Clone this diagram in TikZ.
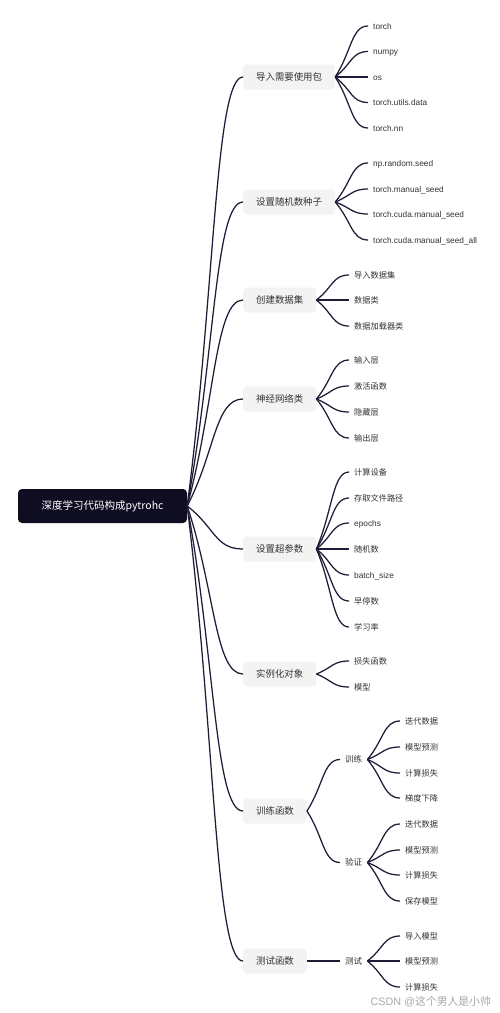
\documentclass[tikz,border=0pt]{standalone}
\usepackage{fontspec}
\setmainfont{Liberation Sans}
\newfontfamily\cjk{Noto Sans CJK SC}
\usetikzlibrary{calc}
\definecolor{linec}{HTML}{1E1C36}
\definecolor{rootc}{HTML}{0F0D22}
\definecolor{boxc}{HTML}{F3F3F3}
\definecolor{txtc}{HTML}{333333}
\definecolor{wmc}{HTML}{A8A8A8}
\newcommand\mmlink[2]{\draw[link] let \p1=(#1), \p2=(#2) in (\p1) .. controls ({(\x1+\x2)/2},{(\y1+\y2)/2}) and ({(\x1+\x2)/2},\y2) .. (\p2);}
\begin{document}
\begin{tikzpicture}[x=1pt,y=-1pt,
 link/.style={draw=linec, line width=1.25pt},
 rootbox/.style={fill=rootc, rounded corners=4pt, minimum width=169pt, minimum height=34pt, text=white, font=\cjk\fontsize{10.5}{12}\selectfont, inner sep=0pt, text height=0.75em, text depth=0.1em},
 topic/.style={fill=boxc, rounded corners=4pt, minimum height=25pt, inner xsep=13pt, inner ysep=0pt, text=txtc, font=\cjk\fontsize{9.4}{11}\selectfont, anchor=west, text height=0.75em, text depth=0.1em},
 leaf/.style={inner xsep=5pt, inner ysep=1pt, text=txtc, font=\fontsize{8.3}{10}\selectfont, anchor=west, text height=0.75em, text depth=0.1em},
 cleaf/.style={leaf, font=\cjk\fontsize{8.2}{10}\selectfont},
 subnode/.style={leaf, font=\cjk\fontsize{8.5}{10}\selectfont},
 wmark/.style={anchor=east, inner sep=0pt, text=wmc, font=\fontsize{10.8}{12}\selectfont}]
\fill[white] (0,0) rectangle (500,1013);
\useasboundingbox (0,0) rectangle (500,1013);
% root
\node[rootbox] (root) at (102.5,506) {深度学习代码构成pytrohc};
% topics
\node[topic] (t1) at (243,77) {导入需要使用包};
\node[topic] (t2) at (243,202) {设置随机数种子};
\node[topic] (t3) at (243,300) {创建数据集};
\node[topic] (t4) at (243,399) {神经网络类};
\node[topic] (t5) at (243,549) {设置超参数};
\node[topic] (t6) at (243,674) {实例化对象};
\node[topic] (t7) at (243,811) {训练函数};
\node[topic] (t8) at (243,961) {测试函数};
% group 1
\node[leaf] (a1) at (368,26) {torch};
\node[leaf] (a2) at (368,51.5) {numpy};
\node[leaf] (a3) at (368,77) {os};
\node[leaf] (a4) at (368,102.5) {torch.utils.data};
\node[leaf] (a5) at (368,128) {torch.nn};
% group 2
\node[leaf] (b1) at (368,163) {np.random.seed};
\node[leaf] (b2) at (368,189) {torch.manual\_seed};
\node[leaf] (b3) at (368,214) {torch.cuda.manual\_seed};
\node[leaf] (b4) at (368,240) {torch.cuda.manual\_seed\_all};
% group 3
\node[cleaf] (c1) at (349,275) {导入数据集};
\node[cleaf] (c2) at (349,300) {数据类};
\node[cleaf] (c3) at (349,326) {数据加载器类};
% group 4
\node[cleaf] (d1) at (349,360) {输入层};
\node[cleaf] (d2) at (349,386) {激活函数};
\node[cleaf] (d3) at (349,412) {隐藏层};
\node[cleaf] (d4) at (349,438) {输出层};
% group 5
\node[cleaf] (e1) at (349,472) {计算设备};
\node[cleaf] (e2) at (349,498) {存取文件路径};
\node[leaf]  (e3) at (349,523) {epochs};
\node[cleaf] (e4) at (349,549) {随机数};
\node[leaf]  (e5) at (349,575) {batch\_size};
\node[cleaf] (e6) at (349,601) {早停数};
\node[cleaf] (e7) at (349,627) {学习率};
% group 6
\node[cleaf] (f1) at (349,661) {损失函数};
\node[cleaf] (f2) at (349,687) {模型};
% group 7
\node[subnode] (s1) at (340,759.5) {训练};
\node[subnode] (s2) at (340,862.5) {验证};
\node[cleaf] (g1) at (400,721) {迭代数据};
\node[cleaf] (g2) at (400,747) {模型预测};
\node[cleaf] (g3) at (400,773) {计算损失};
\node[cleaf] (g4) at (400,798) {梯度下降};
\node[cleaf] (h1) at (400,824) {迭代数据};
\node[cleaf] (h2) at (400,850) {模型预测};
\node[cleaf] (h3) at (400,875) {计算损失};
\node[cleaf] (h4) at (400,901) {保存模型};
% group 8
\node[subnode] (s3) at (340,961) {测试};
\node[cleaf] (k1) at (400,936) {导入模型};
\node[cleaf] (k2) at (400,961) {模型预测};
\node[cleaf] (k3) at (400,987) {计算损失};
% watermark
\node[wmark] (wm) at (491,1002) {CSDN @{\cjk 这个男人是小帅}};
% links
\foreach \t in {t1,t2,t3,t4,t5,t6,t7,t8} {\mmlink{root.east}{\t.west}}
\foreach \l in {a1,a2,a3,a4,a5} {\mmlink{t1.east}{\l.west}}
\foreach \l in {b1,b2,b3,b4} {\mmlink{t2.east}{\l.west}}
\foreach \l in {c1,c2,c3} {\mmlink{t3.east}{\l.west}}
\foreach \l in {d1,d2,d3,d4} {\mmlink{t4.east}{\l.west}}
\foreach \l in {e1,e2,e3,e4,e5,e6,e7} {\mmlink{t5.east}{\l.west}}
\foreach \l in {f1,f2} {\mmlink{t6.east}{\l.west}}
\foreach \l in {s1,s2} {\mmlink{t7.east}{\l.west}}
\foreach \l in {g1,g2,g3,g4} {\mmlink{s1.east}{\l.west}}
\foreach \l in {h1,h2,h3,h4} {\mmlink{s2.east}{\l.west}}
\mmlink{t8.east}{s3.west}
\foreach \l in {k1,k2,k3} {\mmlink{s3.east}{\l.west}}
\end{tikzpicture}
\end{document}
